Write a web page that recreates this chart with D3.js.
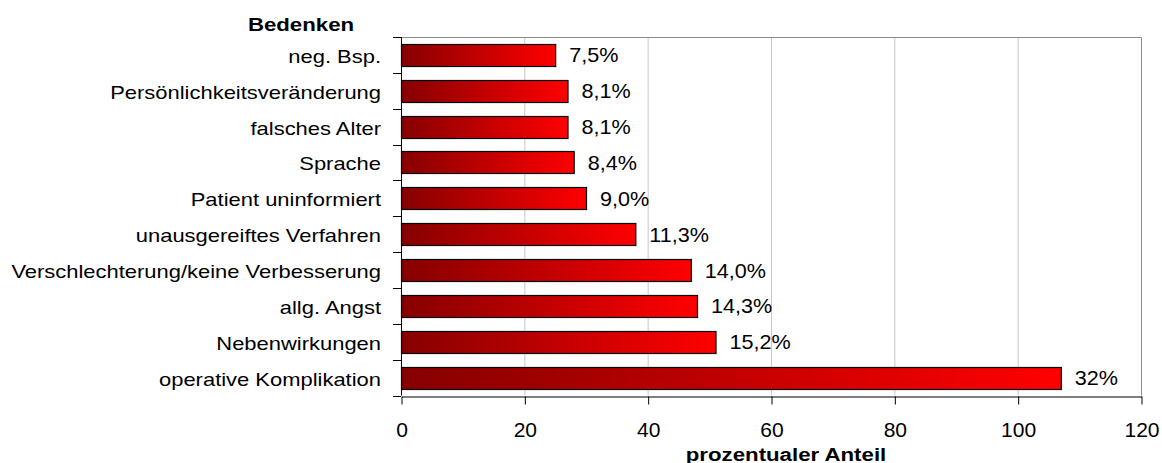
<!DOCTYPE html>
<html>
<head>
<meta charset="utf-8">
<script src="https://cdn.jsdelivr.net/npm/d3@7"></script>
<style>
  html, body { margin: 0; padding: 0; background: #fff; }
  svg { display: block; font-family: "Liberation Sans", Arial, sans-serif; }
</style>
</head>
<body>
<svg id="chart" width="1162" height="463"></svg>
<script>
// Bedenken (concerns), top to bottom
const categories = [
  "neg. Bsp.",
  "Persönlichkeitsveränderung",
  "falsches Alter",
  "Sprache",
  "Patient uninformiert",
  "unausgereiftes Verfahren",
  "Verschlechterung/keine Verbesserung",
  "allg. Angst",
  "Nebenwirkungen",
  "operative Komplikation"
];
// number of mentions per concern
const counts = [25, 27, 27, 28, 30, 38, 47, 48, 51, 107];
// share label printed at the end of each bar
const shareLabels = ["7,5%", "8,1%", "8,1%", "8,4%", "9,0%", "11,3%", "14,0%", "14,3%", "15,2%", "32%"];
const xTicks = [0, 20, 40, 60, 80, 100, 120];
const yTitle = "Bedenken";
const xTitle = "prozentualer Anteil";

const svg = d3.select("#chart");
const plot = { left: 401, right: 1141, top: 37, bottom: 395.5 };

const x = d3.scaleLinear().domain([0, 120]).range([plot.left, plot.right]);
const y = d3.scaleBand().domain(categories)
  .range([plot.top, plot.bottom])
  .paddingInner(0.385).paddingOuter(0.1925);

// horizontal gradient per bar: dark red to bright red
const defs = svg.append("defs");
const grad = defs.append("linearGradient").attr("id", "barFill")
  .attr("x1", "0%").attr("x2", "100%").attr("y1", "0%").attr("y2", "0%");
grad.append("stop").attr("offset", "0%").attr("stop-color", "#860000");
grad.append("stop").attr("offset", "100%").attr("stop-color", "#ff0000");

// vertical gridlines
svg.append("g").selectAll("line")
  .data(xTicks.filter(t => t > 0 && t < 120))
  .join("line")
  .attr("x1", d => x(d) + 0.5).attr("x2", d => x(d) + 0.5)
  .attr("y1", plot.top).attr("y2", plot.bottom)
  .attr("stroke", "#c8c8c8").attr("stroke-width", 1);

// plot frame (top and right)
svg.append("path")
  .attr("d", `M${plot.left},${plot.top + 0.5}H${plot.right + 0.5}V${plot.bottom}`)
  .attr("fill", "none").attr("stroke", "#8c8c8c").attr("stroke-width", 1);

// bars
svg.append("g").selectAll("rect")
  .data(categories)
  .join("rect")
  .attr("x", x(0) + 0.5)
  .attr("y", d => Math.round(y(d)) + 0.5)
  .attr("width", (d, i) => x(counts[i]) - x(0))
  .attr("height", Math.round(y.bandwidth()))
  .attr("fill", "url(#barFill)")
  .attr("stroke", "#000").attr("stroke-width", 1.2);

// value labels
svg.append("g").selectAll("g")
  .data(categories)
  .join("g")
  .attr("transform", (d, i) => `translate(${x(counts[i]) + 14},${y(d) + y.bandwidth() / 2 + 7.5}) scale(1.08,1)`)
  .append("text")
  .attr("font-size", 20)
  .attr("fill", "#000")
  .text((d, i) => shareLabels[i]);

// left axis: line plus ticks at category boundaries
const half = y.step() * y.paddingInner() / 2;
const bounds = categories.map(c => y(c) - half).concat([plot.bottom]);
svg.append("line")
  .attr("x1", plot.left + 0.5).attr("x2", plot.left + 0.5)
  .attr("y1", plot.top).attr("y2", plot.bottom)
  .attr("stroke", "#000");
svg.append("g").selectAll("line")
  .data(bounds)
  .join("line")
  .attr("x1", plot.left - 8).attr("x2", plot.left)
  .attr("y1", d => Math.round(d) + 0.5).attr("y2", d => Math.round(d) + 0.5)
  .attr("stroke", "#000");

// category labels
svg.append("g").selectAll("g")
  .data(categories)
  .join("g")
  .attr("transform", d => `translate(381,${y(d) + y.bandwidth() / 2 + 8}) scale(1.22,1)`)
  .append("text")
  .attr("text-anchor", "end")
  .attr("font-size", 18)
  .attr("fill", "#000")
  .text(d => d);

// bottom axis
const xAxis = svg.append("g")
  .attr("transform", `translate(0.5,${Math.round(plot.bottom) + 0.5})`)
  .call(d3.axisBottom(x).tickValues(xTicks).tickSize(8).tickSizeOuter(0).tickFormat(d3.format("d")));
xAxis.select(".domain").attr("stroke", "#000");
xAxis.selectAll(".tick line").attr("stroke", "#000");
xAxis.selectAll(".tick text")
  .attr("y", 41).attr("dy", 0)
  .attr("font-size", 19.5)
  .attr("font-family", "Liberation Sans, Arial, sans-serif")
  .attr("fill", "#000")
  .attr("transform", "scale(1.08,1)");
// x axis line continues left to the last category tick
svg.append("line")
  .attr("x1", plot.left - 8).attr("x2", plot.left)
  .attr("y1", Math.round(plot.bottom) + 0.5).attr("y2", Math.round(plot.bottom) + 0.5)
  .attr("stroke", "#000");

// titles
svg.append("g").attr("transform", "translate(301,31) scale(1.27,1)")
  .append("text")
  .attr("text-anchor", "middle")
  .attr("font-size", 17.5).attr("font-weight", "bold")
  .text(yTitle);
svg.append("g").attr("transform", "translate(786,460.5) scale(1.27,1)")
  .append("text")
  .attr("text-anchor", "middle")
  .attr("font-size", 17.5).attr("font-weight", "bold")
  .text(xTitle);
</script>
</body>
</html>
